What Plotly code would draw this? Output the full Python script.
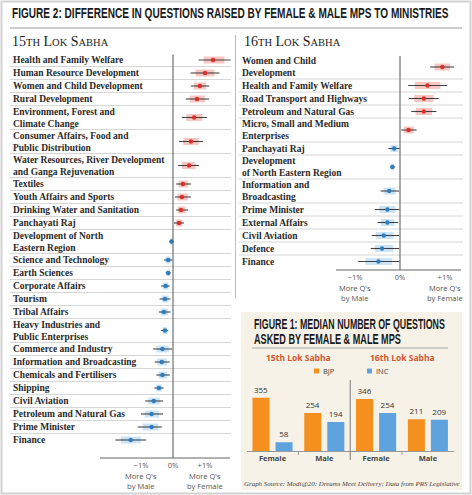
import plotly.graph_objects as go

W, H = 472, 495

# ---------------- data ----------------
left_labels = [
    "Health and Family Welfare", "Human Resource Development", "Women and Child Development",
    "Rural Development", "Environment, Forest and<br>Climate Change",
    "Consumer Affairs, Food and<br>Public Distribution",
    "Water Resources, River Development<br>and Ganga Rejuvenation",
    "Textiles", "Youth Affairs and Sports", "Drinking Water and Sanitation", "Panchayati Raj",
    "Development of North<br>Eastern Region", "Science and Technology", "Earth Sciences",
    "Corporate Affairs", "Tourism", "Tribal Affairs", "Heavy Industries and<br>Public Enterprises",
    "Commerce and Industry", "Information and Broadcasting", "Chemicals and Fertilisers",
    "Shipping", "Civil Aviation", "Petroleum and Natural Gas", "Prime Minister", "Finance",
]
left_val = [1.25, 1.0, 0.84, 0.75, 0.66, 0.56, 0.5, 0.31, 0.28, 0.25, 0.19, -0.05, -0.15, -0.15,
            -0.23, -0.25, -0.28, -0.25, -0.33, -0.35, -0.33, -0.44, -0.6, -0.67, -0.67, -1.32]
left_lo = [0.8, 0.55, 0.56, 0.4, 0.28, 0.19, 0.16, 0.1, 0.06, 0.1, 0.03, -0.1, -0.28, -0.23,
           -0.37, -0.42, -0.44, -0.37, -0.62, -0.57, -0.52, -0.58, -0.87, -1.0, -1.1, -1.8]
left_hi = [1.8, 1.45, 1.13, 1.13, 1.06, 0.94, 0.81, 0.56, 0.56, 0.47, 0.34, 0.0, -0.02, -0.07,
           -0.1, -0.08, -0.08, -0.15, -0.02, -0.1, -0.1, -0.3, -0.31, -0.31, -0.35, -0.84]

right_labels = [
    "Women and Child<br>Development", "Health and Family Welfare", "Road Transport and Highways",
    "Petroleum and Natural Gas", "Micro, Small and Medium<br>Enterprises", "Panchayati Raj",
    "Development<br>of North Eastern Region", "Information and<br>Broadcasting", "Prime Minister",
    "External Affairs", "Civil Aviation", "Defence", "Finance",
]
right_val = [0.94, 0.61, 0.53, 0.53, 0.19, -0.13, -0.17, -0.24, -0.28, -0.28, -0.36, -0.4, -0.48]
right_lo = [0.67, 0.18, 0.2, 0.25, 0.03, -0.26, -0.21, -0.43, -0.56, -0.5, -0.63, -0.65, -0.93]
right_hi = [1.2, 1.05, 0.86, 0.81, 0.37, -0.01, -0.11, -0.02, -0.01, -0.04, -0.02, -0.02, -0.01]

axis_ticks = [-1, 0, 1]
axis_ticktext = ["\u22121%", "0%", "+1%"]
axis_notes = ["More Q's<br>by Male", "More Q's<br>by Female"]

bar_groups = ["Female", "Male", "Female", "Male"]
sabhas = ["15th Lok Sabha", "16th Lok Sabha"]
parties = ["BJP", "INC"]
bjp_median = [355, 254, 346, 211]
inc_median = [58, 194, 254, 209]

title2 = "FIGURE 2: DIFFERENCE IN QUESTIONS RAISED BY FEMALE &amp; MALE MPS TO MINISTRIES"
title1_lines = ["FIGURE 1: MEDIAN NUMBER OF QUESTIONS", "ASKED BY FEMALE &amp; MALE MPS"]
source = "Graph Source: Modi@20: Dreams Meet Delivery; Data from PRS Legislative"

# ---------------- helpers ----------------
def X(px):
    return px / W

def Y(py):
    return 1 - py / H

def row_layout(labels, top, single=13.0, double=24.0):
    centers, bounds = [], []
    y = top
    for lab in labels:
        h = double if "<br>" in lab else single
        centers.append(y + h / 2)
        y += h
        bounds.append(y)
    return centers, bounds[:-1]

POS_GLOW = "rgba(232,70,60,0.30)"
NEG_GLOW = "rgba(90,165,225,0.30)"
POS_DOT = "#d9322a"
NEG_DOT = "#2f7fc0"

fig = go.Figure()
shapes = []
annotations = []
label_font = dict(family="Liberation Serif", size=9.5, color="#2a2a2a", weight="bold")


def dot_panel(labels, val, lo, hi, top, xa, ya, x0px, x1px, axis_py, axis_x0, axis_x1):
    centers, bounds = row_layout(labels, top)
    for sign, col in ((1, POS_GLOW), (-1, NEG_GLOW)):
        gx, gy = [], []
        for c, v, a, b in zip(centers, val, lo, hi):
            if (v > 0) == (sign > 0):
                gx += [v - (v - a) * 0.65, v + (b - v) * 0.65, None]
                gy += [c, c, None]
        fig.add_trace(go.Scatter(x=gx, y=gy, mode="lines", xaxis=xa, yaxis=ya,
                                 line=dict(color=col, width=7), hoverinfo="skip", showlegend=False))
    fig.add_trace(go.Scatter(
        x=val, y=centers, mode="markers", xaxis=xa, yaxis=ya, showlegend=False,
        marker=dict(size=4.5, color=[POS_DOT if v > 0 else NEG_DOT for v in val], line=dict(width=0)),
        error_x=dict(type="data", symmetric=False,
                     array=[b - v for v, b in zip(val, hi)],
                     arrayminus=[v - a for v, a in zip(val, lo)],
                     color="rgba(35,35,35,0.85)", thickness=1.1, width=0),
    ))
    for b in bounds:
        shapes.append(dict(type="line", xref="paper", yref=ya, x0=X(x0px), x1=X(x1px), y0=b, y1=b,
                           line=dict(color="#d6d6d6", width=1), layer="below"))
    shapes.append(dict(type="line", xref=xa, yref=ya, x0=0, x1=0, y0=top + 1, y1=axis_py,
                       line=dict(color="#555", width=1)))
    shapes.append(dict(type="line", xref="paper", yref=ya, x0=X(axis_x0), x1=X(axis_x1),
                       y0=axis_py, y1=axis_py, line=dict(color="#666", width=1)))
    for lab, c in zip(labels, centers):
        annotations.append(dict(text=lab, xref="paper", yref=ya, x=X(x0px + 1), y=c, showarrow=False,
                                xanchor="left", yanchor="middle", align="left", font=label_font))
    return centers


lc = dot_panel(left_labels, left_val, left_lo, left_hi, 53.5, "x", "y", 10, 231, 458, 100, 230)
rc = dot_panel(right_labels, right_val, right_lo, right_hi, 55, "x2", "y2", 239, 463, 270, 336, 461)

tick_font = dict(family="Open Sans", size=7.5, color="#555")

layout_axes = dict(
    xaxis=dict(domain=[X(10), X(231)], range=[(10 - 173) / 32, (231 - 173) / 32],
               showgrid=False, zeroline=False, showline=False,
               tickvals=axis_ticks, ticktext=axis_ticktext, tickfont=tick_font,
               anchor="free", position=Y(459), ticks=""),
    yaxis=dict(domain=[0, 1], range=[H, 0], visible=False, anchor="x"),
    xaxis2=dict(domain=[X(239), X(463)], range=[(239 - 400) / 45, (463 - 400) / 45],
                showgrid=False, zeroline=False, showline=False,
                tickvals=axis_ticks, ticktext=axis_ticktext, tickfont=tick_font,
                anchor="free", position=Y(271), ticks=""),
    yaxis2=dict(domain=[0, 1], range=[H, 0], visible=False, anchor="x2"),
)

for xr, ypx in (("x", 481), ("x2", 293)):
    for note, xv in zip(axis_notes, (axis_ticks[0], axis_ticks[2])):
        annotations.append(dict(text=note, xref=xr, yref="paper", x=xv, y=Y(ypx), showarrow=False,
                                font=dict(family="Open Sans", size=7.5, color="#555"),
                                xanchor="center", yanchor="middle"))

# ---------------- inset (figure 1) ----------------
shapes.append(dict(type="rect", xref="paper", yref="paper", x0=X(241), x1=X(462), y0=Y(490), y1=Y(312),
                   fillcolor="#f6f2e8", line=dict(width=0), layer="below"))

BJP_C = "#f5901e"
INC_C = "#5ea3dd"
gx = [0, 1, 2, 3]
for name, vals, col in ((parties[0], bjp_median, BJP_C), (parties[1], inc_median, INC_C)):
    fig.add_trace(go.Bar(x=gx, y=vals, name=name, marker=dict(color=col, line=dict(width=0)),
                         text=vals, textposition="outside", cliponaxis=False,
                         textfont=dict(family="Open Sans", size=8, color="#333"),
                         xaxis="x3", yaxis="y3", showlegend=False))

layout_axes["xaxis3"] = dict(domain=[X(246.6), X(453.8)], range=[-0.5, 3.5], anchor="y3",
                             tickvals=gx, ticktext=bar_groups, showgrid=False, zeroline=False,
                             showline=True, linecolor="#999", linewidth=1, ticks="",
                             tickfont=dict(family="Open Sans", size=7.5, color="#444", weight="bold"))
layout_axes["yaxis3"] = dict(domain=[Y(451), Y(380)], range=[0, 71 / 0.15], anchor="x3", visible=False)

for xv in (0.5, 2.5):
    shapes.append(dict(type="line", xref="x3", yref="paper", x0=xv, x1=xv, y0=Y(451), y1=Y(455),
                       line=dict(color="#999", width=1)))
shapes.append(dict(type="line", xref="x3", yref="paper", x0=1.5, x1=1.5, y0=Y(460), y1=Y(380),
                   line=dict(color="#777", width=1)))

for s, xv in zip(sabhas, (0.5, 2.5)):
    annotations.append(dict(text=s, xref="x3", yref="paper", x=xv, y=Y(357),
                            showarrow=False, font=dict(family="Open Sans", size=8.5, color="#d4552c", weight="bold"),
                            xanchor="center", yanchor="middle"))
for p, col, xpx in zip(parties, (BJP_C, INC_C), (314, 367)):
    shapes.append(dict(type="rect", xref="paper", yref="paper", x0=X(xpx), x1=X(xpx + 5),
                       y0=Y(373.5), y1=Y(368.5), fillcolor=col, line=dict(width=0)))
    annotations.append(dict(text=p, xref="paper", yref="paper", x=X(xpx + 7), y=Y(371), showarrow=False,
                            font=dict(family="Open Sans", size=7.5, color="#444"),
                            xanchor="left", yanchor="middle"))

for line, ypx in zip(title1_lines, (324, 339)):
    annotations.append(dict(text=line, xref="paper", yref="paper", x=X(252), y=Y(ypx), showarrow=False,
                            font=dict(family="Liberation Sans", size=14, color="#1a1a1a", weight="bold"),
                            xanchor="left", yanchor="middle", align="left"))
shapes.append(dict(type="line", xref="paper", yref="paper", x0=X(252), x1=X(448), y0=Y(348), y1=Y(348),
                   line=dict(color="#a8a8a8", width=1)))
annotations.append(dict(text=source, xref="paper", yref="paper", x=X(242), y=Y(484),
                        showarrow=False, font=dict(family="Liberation Serif", size=7, color="#444", style="italic"),
                        xanchor="left", yanchor="middle", align="left"))

# ---------------- headers ----------------
annotations.append(dict(text=title2, xref="paper", yref="paper", x=X(10), y=Y(13),
                        showarrow=False, font=dict(family="Liberation Sans", size=15, color="#1a1a1a", weight="bold"),
                        xanchor="left", yanchor="middle", align="left"))
shapes.append(dict(type="line", xref="paper", yref="paper", x0=X(10), x1=X(462), y0=Y(28), y1=Y(28),
                   line=dict(color="#999", width=1)))
shapes.append(dict(type="line", xref="paper", yref="paper", x0=X(235.5), x1=X(235.5), y0=Y(35), y1=Y(298),
                   line=dict(color="#bbb", width=1)))

sm = "<span style='font-size:10.5px'>%s</span>"
for txt, xpx in (("15" + sm % "TH" + " L" + sm % "OK" + " S" + sm % "ABHA", 10),
                 ("16" + sm % "TH" + " L" + sm % "OK" + " S" + sm % "ABHA", 242)):
    annotations.append(dict(text=txt, xref="paper", yref="paper", x=X(xpx), y=Y(42), showarrow=False,
                            font=dict(family="Liberation Serif", size=14, color="#222"),
                            xanchor="left", yanchor="middle"))

shapes.append(dict(type="rect", xref="paper", yref="paper", x0=X(1.5), x1=X(470.5), y0=Y(493.5), y1=Y(1.5),
                   line=dict(color="#d2d2d2", width=2)))

fig.update_layout(
    width=W, height=H, margin=dict(l=0, r=0, t=0, b=0),
    paper_bgcolor="white", plot_bgcolor="rgba(0,0,0,0)",
    barmode="group", bargap=0.11, bargroupgap=0.26,
    shapes=shapes, annotations=annotations, showlegend=False,
    **layout_axes,
)

# squeeze the condensed headline texts horizontally to their printed widths
post = """
var gd = document.getElementById('{plot_id}');
function fitTexts() {
  var targets = [['FIGURE 2', 437], ['FIGURE 1', 191], ['ASKED BY', 147], ['Graph Source', 216]];
  gd.querySelectorAll('text.annotation-text').forEach(function (t) {
    var s = t.textContent || '';
    targets.forEach(function (p) {
      if (s.indexOf(p[0]) === 0 && !t.getAttribute('data-fit')) {
        var bb = t.getBBox();
        if (bb.width > 0) {
          var k = p[1] / bb.width;
          var x0 = bb.x;
          var prev = t.getAttribute('transform') || '';
          t.setAttribute('transform', prev + ' translate(' + x0 + ',0) scale(' + k + ',1) translate(' + (-x0) + ',0)');
          t.setAttribute('data-fit', '1');
        }
      }
    });
  });
}
fitTexts();
gd.on('plotly_afterplot', fitTexts);
"""

fig.write_html("out.html", post_script=post)
